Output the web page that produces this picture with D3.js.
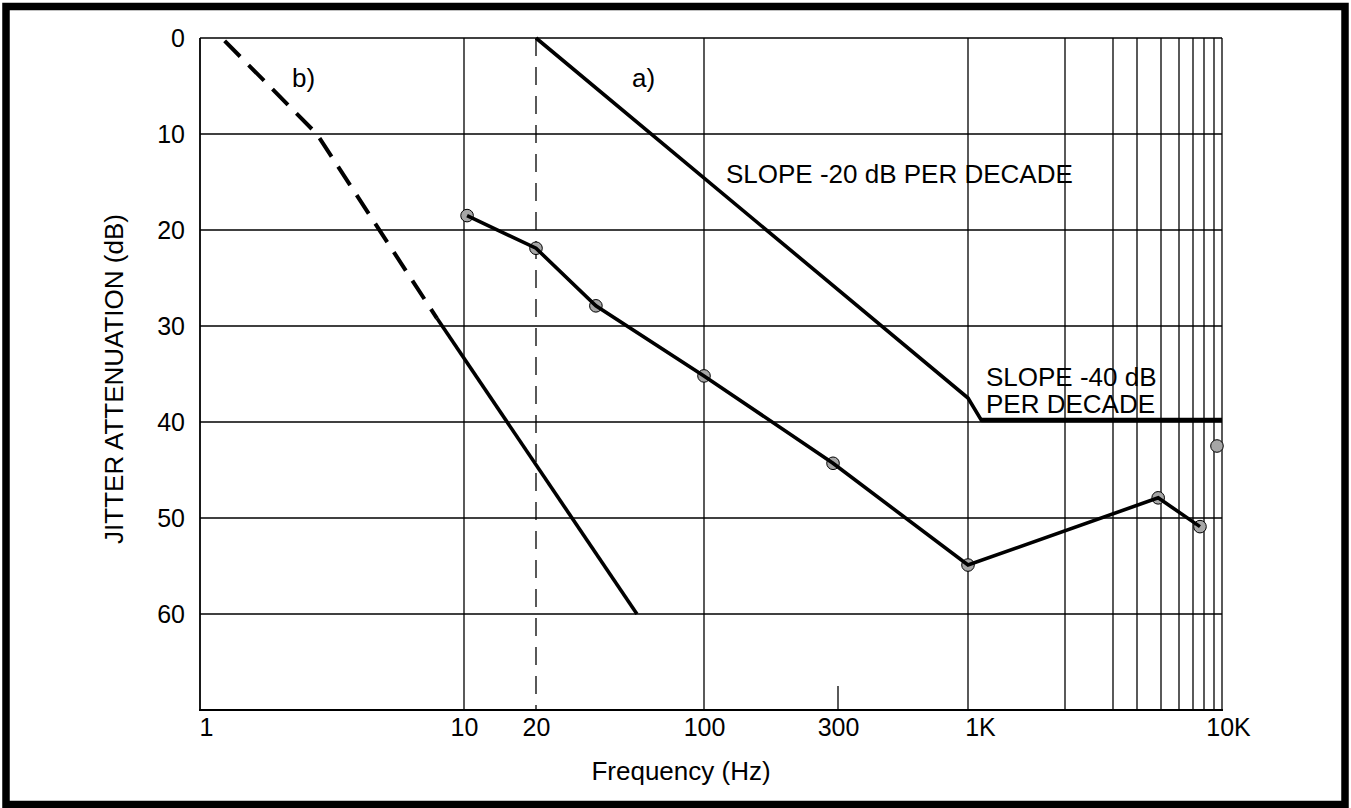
<!DOCTYPE html>
<html>
<head>
<meta charset="utf-8">
<script src="https://cdn.jsdelivr.net/npm/d3@7"></script>
<style>
  body { margin: 0; background: #fff; }
  svg { display: block; font-family: "Liberation Sans", Arial, sans-serif; }
</style>
</head>
<body>
<svg id="chart" width="1351" height="808"></svg>
<script>
// x axis ticks (Hz) and their labels
var xTickValues = [1, 10, 20, 100, 300, 1000, 10000];
var xTickLabels = ["1", "10", "20", "100", "300", "1K", "10K"];
// vertical grid lines (hand drawn log grid of the original)
var xGridValues = [10, 100, 1000, 2000, 3000, 4000, 5000, 6000, 7000, 8000, 9000, 10000];
// y axis ticks (dB)
var yTickValues = [0, 10, 20, 30, 40, 50, 60];

// curve a) : mask, slope -20 dB/decade then flat
var maskFreq = [20, 1000, 1100, 10000];
var maskDb = [0, 37.5, 39.8, 39.8];

// curve b) : dashed part then solid part
var bDashFreq = [1.24, 2.77, 7.9];
var bDashDb = [0.3, 10, 29.2];
var bSolidFreq = [7.9, 52.6];
var bSolidDb = [29.2, 60];

// measured points (connected)
var measFreq = [10.3, 20, 35.5, 100, 288, 1000, 4870, 7620];
var measDb = [18.5, 21.9, 27.9, 35.2, 44.3, 54.9, 47.9, 50.9];
// single point, not connected
var extraFreq = [9360];
var extraDb = [42.5];

var svg = d3.select("#chart");

// outer frame
svg.append("rect")
    .attr("x", 6).attr("y", 6.5)
    .attr("width", 1339).attr("height", 798)
    .attr("fill", "none")
    .attr("stroke", "#000")
    .attr("stroke-width", 7.5);

var plotLeft = 200, plotRight = 1222, plotTop = 38, plotBottom = 710;

// the printed grid is not a perfect log grid, so the log scale is piecewise
var x = d3.scaleLog()
    .domain([1, 10, 20, 100, 300, 1000, 2000, 3000, 4000, 5000, 6000, 7000, 8000, 9000, 10000])
    .range([plotLeft, 464, 536, 704, 838, 968, 1065, 1113, 1137, 1161, 1179, 1193, 1204, 1214, plotRight]);
var y = d3.scaleLinear().domain([0, 70]).range([plotTop, plotBottom]);

var grid = svg.append("g").attr("stroke", "#000").attr("stroke-width", 1.3);

// horizontal grid
grid.selectAll(".hg")
    .data(yTickValues)
    .join("line")
    .attr("x1", plotLeft).attr("x2", plotRight)
    .attr("y1", d => y(d)).attr("y2", d => y(d));

// vertical grid
grid.selectAll(".vg")
    .data(xGridValues)
    .join("line")
    .attr("x1", d => x(d)).attr("x2", d => x(d))
    .attr("y1", plotTop).attr("y2", plotBottom);

// 20 Hz dashed line
grid.append("line")
    .attr("x1", x(20)).attr("x2", x(20))
    .attr("y1", plotTop).attr("y2", plotBottom)
    .attr("stroke-dasharray", "18,11");

// short tick at 300 Hz
grid.append("line")
    .attr("x1", x(300)).attr("x2", x(300))
    .attr("y1", plotBottom - 24).attr("y2", plotBottom);

// axis lines
svg.append("line")
    .attr("x1", plotLeft).attr("x2", plotLeft).attr("y1", plotTop).attr("y2", plotBottom)
    .attr("stroke", "#000").attr("stroke-width", 1.8);
svg.append("line")
    .attr("x1", plotLeft - 1).attr("x2", plotRight + 1).attr("y1", plotBottom).attr("y2", plotBottom)
    .attr("stroke", "#000").attr("stroke-width", 2);

// axes (labels only)
var xAxis = d3.axisBottom(x)
    .tickValues(xTickValues)
    .tickFormat((d, i) => xTickLabels[i])
    .tickSize(0).tickPadding(8);
var gx = svg.append("g")
    .attr("transform", `translate(0,${plotBottom})`)
    .call(xAxis);
var labelShift = {"1": 6, "1K": 12, "10K": 6};
gx.selectAll(".tick text")
    .attr("dx", (d, i) => labelShift[xTickLabels[i]] || 0);

var yAxis = d3.axisLeft(y)
    .tickValues(yTickValues)
    .tickSize(0).tickPadding(15);
var gy = svg.append("g")
    .attr("transform", `translate(${plotLeft},0)`)
    .call(yAxis);

[gx, gy].forEach(g => {
    g.select(".domain").remove();
    g.selectAll("text")
        .attr("fill", "#000")
        .style("font-size", "25px")
        .style("font-family", "'Liberation Sans', Arial, sans-serif");
});

var line = d3.line()
    .x(d => x(d[0]))
    .y(d => y(d[1]));

// curve a)
svg.append("path")
    .datum(d3.zip(maskFreq, maskDb))
    .attr("d", line)
    .attr("fill", "none")
    .attr("stroke", "#000")
    .attr("stroke-width", 3.6);

// flat part drawn a bit heavier as in the print
svg.append("path")
    .datum(d3.zip(maskFreq.slice(2), maskDb.slice(2)))
    .attr("d", line)
    .attr("fill", "none")
    .attr("stroke", "#000")
    .attr("stroke-width", 4.5);

// curve b)
svg.append("path")
    .datum(d3.zip(bDashFreq, bDashDb))
    .attr("d", line)
    .attr("fill", "none")
    .attr("stroke", "#000")
    .attr("stroke-width", 4)
    .attr("stroke-dasharray", "22,12");
svg.append("path")
    .datum(d3.zip(bSolidFreq, bSolidDb))
    .attr("d", line)
    .attr("fill", "none")
    .attr("stroke", "#000")
    .attr("stroke-width", 3.6);

// measured points
var meas = d3.zip(measFreq, measDb);
svg.selectAll(".pt")
    .data(meas.concat(d3.zip(extraFreq, extraDb)))
    .join("circle")
    .attr("cx", d => x(d[0]))
    .attr("cy", d => y(d[1]))
    .attr("r", 6.3)
    .attr("fill", "#a6a6a6")
    .attr("stroke", "#000")
    .attr("stroke-width", 1);
svg.append("path")
    .datum(meas)
    .attr("d", line)
    .attr("fill", "none")
    .attr("stroke", "#000")
    .attr("stroke-width", 3.6);

// texts
var txt = svg.append("g")
    .attr("fill", "#000")
    .style("font-size", "26px");

txt.append("text").attr("x", 292).attr("y", 87).text("b)");
txt.append("text").attr("x", 632).attr("y", 87).text("a)");
txt.append("text").attr("x", 726).attr("y", 183).text("SLOPE -20 dB PER DECADE");
txt.append("text").attr("x", 986).attr("y", 386).text("SLOPE -40 dB");
txt.append("text").attr("x", 986).attr("y", 413).text("PER DECADE");

txt.append("text")
    .attr("x", 681).attr("y", 780)
    .attr("text-anchor", "middle")
    .text("Frequency (Hz)");

txt.append("text")
    .attr("transform", "translate(123,379) rotate(-90)")
    .attr("text-anchor", "middle")
    .text("JITTER ATTENUATION (dB)");
</script>
</body>
</html>
